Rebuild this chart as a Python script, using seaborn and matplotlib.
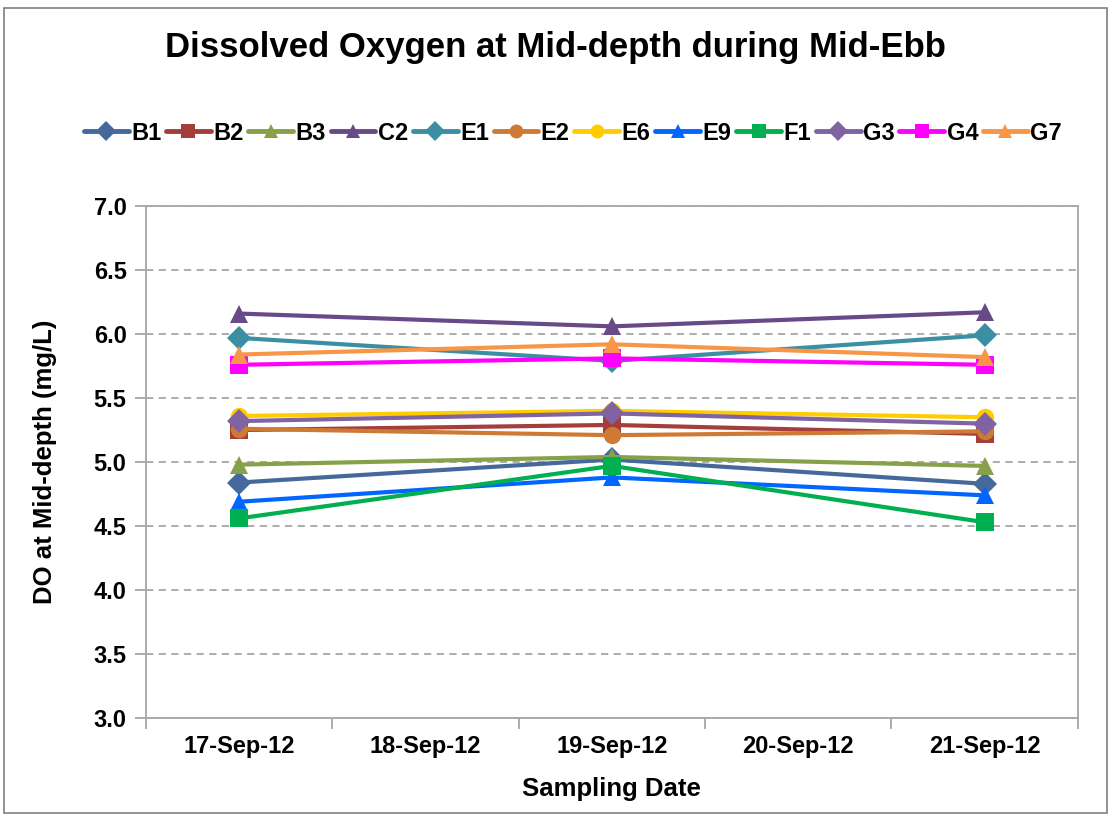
import pandas as pd
import seaborn as sns
import matplotlib.pyplot as plt
from matplotlib.patches import Rectangle

# Data
dates = ['17-Sep-12', '18-Sep-12', '19-Sep-12', '20-Sep-12', '21-Sep-12']
sample_dates = ['17-Sep-12', '19-Sep-12', '21-Sep-12']
stations = ['B1', 'B2', 'B3', 'C2', 'E1', 'E2', 'E6', 'E9', 'F1', 'G3', 'G4', 'G7']

B1 = [4.84, 5.02, 4.83]
B2 = [5.25, 5.29, 5.22]
B3 = [4.98, 5.04, 4.97]
C2 = [6.16, 6.06, 6.17]
E1 = [5.97, 5.79, 5.99]
E2 = [5.26, 5.21, 5.24]
E6 = [5.36, 5.40, 5.35]
E9 = [4.69, 4.88, 4.74]
F1 = [4.56, 4.97, 4.53]
G3 = [5.32, 5.38, 5.30]
G4 = [5.76, 5.81, 5.76]
G7 = [5.84, 5.92, 5.82]

values = [B1, B2, B3, C2, E1, E2, E6, E9, F1, G3, G4, G7]

colors = ['#44699A', '#A33E3A', '#87A04A', '#674A87', '#3A8FA3', '#CF7A34',
          '#FFCC00', '#0066FF', '#00B050', '#8064A2', '#FF00FF', '#F79646']
markers = ['D', 's', '^', '^', 'D', 'o', 'o', '^', 's', 'D', 's', '^']

rows = []
for name, vals in zip(stations, values):
    for d, v in zip(sample_dates, vals):
        rows.append({'station': name, 'date': d, 'pos': dates.index(d), 'DO': v})
df = pd.DataFrame(rows)

sns.set_style('white')
plt.rcParams['font.family'] = ['Liberation Sans', 'DejaVu Sans']
plt.rcParams['font.weight'] = 'bold'
plt.rcParams['text.color'] = 'black'
plt.rcParams['axes.labelcolor'] = 'black'
plt.rcParams['xtick.labelcolor'] = 'black'
plt.rcParams['ytick.labelcolor'] = 'black'

fig = plt.figure(figsize=(11.1, 8.16), dpi=100)
ax = fig.add_axes([0.1315, 0.12, 0.8395, 0.6275])

sns.lineplot(
    data=df, x='pos', y='DO', hue='station', style='station',
    hue_order=stations, style_order=stations,
    palette=dict(zip(stations, colors)),
    markers=dict(zip(stations, markers)),
    dashes=False, linewidth=3, markersize=12.5, markeredgewidth=0,
    ax=ax, legend=False
)

ax.set_xlim(-0.5, 4.5)
ax.set_ylim(3.0, 7.0)
# Excel-style category axis: tick marks between categories, labels centred
ax.set_xticks([i - 0.5 for i in range(len(dates) + 1)])
ax.set_xticklabels([])
ax.set_xticks(range(len(dates)), minor=True)
ax.set_xticklabels(dates, minor=True, fontsize=17, fontweight='bold')
ax.tick_params(axis='x', which='minor', length=0, pad=12)
ax.set_yticks([3.0, 3.5, 4.0, 4.5, 5.0, 5.5, 6.0, 6.5, 7.0])
ax.set_yticklabels([f'{t:.1f}' for t in ax.get_yticks()], fontsize=17, fontweight='bold')
ax.yaxis.grid(True, color='#A6A6A6', linestyle=(0, (4, 3)), linewidth=1.3)
ax.xaxis.grid(False)
for s in ax.spines.values():
    s.set_color('#A6A6A6')
    s.set_linewidth(1.3)
ax.tick_params(axis='both', which='major', length=8, width=1.3, color='#A6A6A6',
               direction='out', pad=6, left=True, bottom=True)

ax.set_xlabel('Sampling Date', fontsize=18.5, fontweight='bold', labelpad=14)
ax.set_ylabel('DO at Mid-depth (mg/L)', fontsize=18.5, fontweight='bold', labelpad=26)

fig.suptitle('Dissolved Oxygen at Mid-depth during Mid-Ebb', fontsize=25,
             fontweight='bold', y=0.962)

# legend on one row above the plot
handles = [plt.Line2D([], [], color=c, marker=m, linewidth=3.5, markersize=10,
                      markeredgewidth=0) for c, m in zip(colors, markers)]
fig.legend(handles, stations, loc='center', bbox_to_anchor=(0.516, 0.837),
           ncol=12, frameon=False, handlelength=1.9, handletextpad=0.1,
           columnspacing=0.2, prop={'size': 17, 'weight': 'bold'})

fig.patches.append(Rectangle((0.004, 0.004), 0.993, 0.986, transform=fig.transFigure,
                             fill=False, edgecolor='#7F7F7F', linewidth=1.2))

fig.savefig('out.png', dpi=100)
